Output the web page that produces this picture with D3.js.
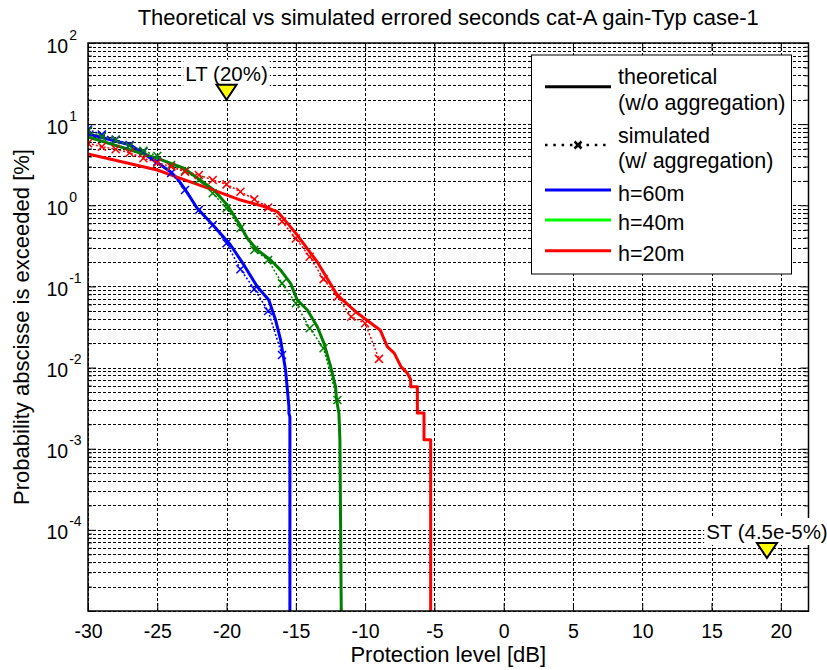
<!DOCTYPE html>
<html>
<head>
<meta charset="utf-8">
<script src="https://d3js.org/d3.v7.min.js"></script>
<style>
  body { margin: 0; background: #fff; }
  text { font-family: "Liberation Sans", Arial, Helvetica, sans-serif; fill: #000; }
</style>
</head>
<body>
<svg id="chart" width="827" height="670"></svg>
<script>
// ---- data ----
var title = "Theoretical vs simulated errored seconds cat-A gain-Typ case-1";
var xLabel = "Protection level [dB]";
var yLabel = "Probability abscisse is exceeded [%]";
var xTicks = [-30, -25, -20, -15, -10, -5, 0, 5, 10, 15, 20];
var yExps = [-4, -3, -2, -1, 0, 1, 2];

// theoretical (w/o aggregation)
var theo60x = [-30, -26.93, -25.0, -24.04, -23.56, -22.96, -22.12, -20.92, -19.71, -18.75, -17.78, -16.95, -16.46, -16.1, -15.74, -15.5, -15.5, -15.43, -15.43];
var theo60y = [7.56, 5.53, 3.35, 2.59, 2.15, 1.54, 0.918, 0.556, 0.324, 0.184, 0.0993, 0.068, 0.0385, 0.0219, 0.0093, 0.0033, 0.00273, 0.00248, 1e-5];
var theo40x = [-30, -26.93, -25.0, -23.08, -20.92, -19.95, -19.11, -18.5, -17.78, -16.82, -16.1, -15.38, -14.9, -14.17, -13.45, -12.97, -12.49, -12.13, -12.06, -11.89, -11.82, -11.72];
var theo40y = [6.94, 4.80, 3.79, 2.86, 1.54, 1.01, 0.60, 0.392, 0.281, 0.212, 0.159, 0.109, 0.068, 0.0512, 0.0319, 0.0199, 0.0103, 0.0058, 0.00398, 0.00273, 0.00128, 1e-5];
var theo20x = [-30, -25.0, -23.32, -20.94, -18.99, -17.4, -16.32, -15.67, -14.9, -13.45, -12.0, -10.56, -9.6, -8.9, -8.4, -7.9, -7.4, -6.95, -6.71, -6.71, -6.23, -6.23, -5.75, -5.75, -5.27, -5.27];
var theo20y = [4.28, 2.72, 2.15, 1.54, 1.16, 0.98, 0.83, 0.62, 0.43, 0.20, 0.078, 0.047, 0.0354, 0.0288, 0.0181, 0.0151, 0.0102, 0.0085, 0.0071, 0.0058, 0.0058, 0.00275, 0.00275, 0.00129, 0.00129, 1e-5];

// simulated (w/ aggregation), one point per dB
var sim60x = [-30, -29, -28, -27, -26, -25, -24, -23, -22, -21, -20, -19, -18, -17, -16];
var sim60y = [8.59, 7.45, 6.45, 5.53, 4.57, 3.45, 2.5, 1.54, 0.875, 0.571, 0.34, 0.163, 0.093, 0.0498, 0.0143];
var sim40x = [-30, -29, -28, -27, -26, -25, -24, -23, -22, -21, -20, -19, -18, -17, -16, -15, -14, -13, -12];
var sim40y = [8.23, 7.0, 6.38, 5.38, 4.71, 4.05, 3.13, 2.67, 2.05, 1.41, 0.918, 0.52, 0.281, 0.212, 0.109, 0.062, 0.0305, 0.0173, 0.00398];
var sim20x = [-30, -29, -28, -27, -26, -25, -24, -23, -22, -21, -20, -19, -18, -17, -16, -15, -14, -13, -12, -11, -10, -9];
var sim20y = [5.8, 5.27, 4.90, 4.45, 3.79, 3.35, 2.99, 2.59, 2.36, 2.05, 1.81, 1.47, 1.19, 0.94, 0.63, 0.39, 0.232, 0.123, 0.0746, 0.0424, 0.0351, 0.0128];

var legendLabels = [["theoretical", "(w/o aggregation)"], ["simulated", "(w/ aggregation)"], ["h=60m"], ["h=40m"], ["h=20m"]];
var legendColors = ["#000", "#000", "#0000ff", "#00ff00", "#ff0000"];

// markers: LT (20%) and ST (4.5e-5%)
var markLabels = ["LT (20%)", "ST (4.5e-5%)"];
var markX = [-20, 19];
var markY = [20, 4.5e-5];

// ---- chart ----
var svg = d3.select("#chart");
var L = 88, R = 808.5, T = 43, B = 611;

var x = d3.scaleLinear().domain([-30, 22]).range([L, R]);
var y = d3.scaleLog().domain([1e-5, 100]).range([B, T]);

svg.append("rect").attr("width", 827).attr("height", 670).attr("fill", "#fff");
svg.append("rect").attr("x", L).attr("y", T).attr("width", R - L).attr("height", B - T).attr("fill", "#fff");

svg.append("defs").append("clipPath").attr("id", "clip")
  .append("rect").attr("x", L).attr("y", T).attr("width", R - L).attr("height", B - T);

// grid values on the log axis
var yMajor = [], yMinor = [];
for (var e = -5; e <= 2; e++) {
  yMajor.push(Math.pow(10, e));
  if (e < 2) for (var k = 2; k <= 9; k++) yMinor.push(k * Math.pow(10, e));
}

var grid = svg.append("g").attr("stroke", "#000").attr("stroke-width", 1)
  .attr("stroke-dasharray", "3,2").attr("shape-rendering", "crispEdges");
grid.selectAll(".gx").data(xTicks).enter().append("line")
  .attr("x1", d => Math.round(x(d)) + 0.5).attr("x2", d => Math.round(x(d)) + 0.5)
  .attr("y1", T).attr("y2", B);
grid.selectAll(".gy").data(yMajor.concat(yMinor)).enter().append("line")
  .attr("x1", L).attr("x2", R)
  .attr("y1", d => Math.round(y(d)) + 0.5).attr("y2", d => Math.round(y(d)) + 0.5);

// axes with inward ticks
function clean(g) { g.select(".domain").remove(); g.selectAll("line").attr("stroke", "#000"); }

svg.append("g").attr("transform", "translate(0," + B + ")")
  .call(d3.axisBottom(x).tickValues(xTicks).tickSize(-8).tickPadding(13).tickFormat(d => String(d)))
  .call(clean)
  .call(g => g.selectAll("text").attr("font-size", 19.5).attr("font-family", "Liberation Sans, Arial, sans-serif"));
svg.append("g").attr("transform", "translate(0," + T + ")")
  .call(d3.axisTop(x).tickValues(xTicks).tickSize(-8).tickFormat(""))
  .call(clean);
svg.append("g").attr("transform", "translate(" + L + ",0)")
  .call(d3.axisLeft(y).tickValues(yMajor).tickSize(-8).tickFormat(""))
  .call(clean);
svg.append("g").attr("transform", "translate(" + L + ",0)")
  .call(d3.axisLeft(y).tickValues(yMinor).tickSize(-4).tickFormat(""))
  .call(clean);
svg.append("g").attr("transform", "translate(" + R + ",0)")
  .call(d3.axisRight(y).tickValues(yMajor).tickSize(-8).tickFormat(""))
  .call(clean);
svg.append("g").attr("transform", "translate(" + R + ",0)")
  .call(d3.axisRight(y).tickValues(yMinor).tickSize(-4).tickFormat(""))
  .call(clean);

// y tick labels 10^n
var yl = svg.append("g").selectAll("text").data(yExps).enter().append("text")
  .attr("x", 46.5).attr("y", d => y(Math.pow(10, d)) + 9.5)
  .attr("font-size", 19.5);
yl.append("tspan").text("10");
yl.append("tspan").attr("dx", 1).attr("dy", -13).attr("font-size", 14).text(d => String(d));

// curves
var line = d3.line().x(d => x(d[0])).y(d => y(d[1]));
var plot = svg.append("g").attr("clip-path", "url(#clip)");

var theo = [
  { xs: theo60x, ys: theo60y, c: "#0000ff" },
  { xs: theo40x, ys: theo40y, c: "#008000" },
  { xs: theo20x, ys: theo20y, c: "#ff0000" }
];
var sim = [
  { xs: sim60x, ys: sim60y, c: "#0000ff" },
  { xs: sim40x, ys: sim40y, c: "#008000" },
  { xs: sim20x, ys: sim20y, c: "#ff0000" }
];

theo.forEach(function (s) {
  plot.append("path").datum(d3.zip(s.xs, s.ys))
    .attr("d", line).attr("fill", "none").attr("stroke", s.c)
    .attr("stroke-width", 3).attr("stroke-linejoin", "round");
});
sim.forEach(function (s) {
  var pts = d3.zip(s.xs, s.ys);
  plot.append("path").datum(pts)
    .attr("d", line).attr("fill", "none").attr("stroke", s.c)
    .attr("stroke-width", 1.5).attr("stroke-dasharray", "2,2");
  plot.selectAll(null).data(pts).enter().append("path")
    .attr("transform", d => "translate(" + x(d[0]) + "," + y(d[1]) + ")")
    .attr("d", "M-4,-4L4,4M-4,4L4,-4")
    .attr("stroke", s.c).attr("stroke-width", 1.5).attr("fill", "none");
});

// box
svg.append("rect").attr("x", L).attr("y", T).attr("width", R - L).attr("height", B - T)
  .attr("fill", "none").attr("stroke", "#000").attr("stroke-width", 1.5);

// annotations with white background
markLabels.forEach(function (lab, i) {
  var px = x(markX[i]), py = y(markY[i]);
  var t = svg.append("text").attr("x", px).attr("y", py - 19).attr("text-anchor", "middle")
    .attr("font-size", 20.5).text(lab);
  var bb = t.node().getBBox();
  svg.insert("rect", function () { return t.node(); })
    .attr("x", bb.x - 2).attr("y", bb.y - 2).attr("width", bb.width + 4).attr("height", bb.height + 4)
    .attr("fill", "#fff");
  svg.append("path")
    .attr("d", "M" + (px - 10) + "," + (py - 15) + "L" + (px + 10) + "," + (py - 15) + "L" + px + "," + py + "Z")
    .attr("fill", "#ffff00").attr("stroke", "#000").attr("stroke-width", 2).attr("stroke-linejoin", "miter");
});

// legend
var lg = svg.append("g");
lg.append("rect").attr("x", 531.5).attr("y", 55).attr("width", 260).attr("height", 219)
  .attr("fill", "#fff").attr("stroke", "#000").attr("stroke-width", 1);
var rowY = [84, 142.5, 200.5, 230, 260.5];
var sampleY = [86.7, 145, 190, 220, 250.7];
legendLabels.forEach(function (lines, i) {
  var t = lg.append("text").attr("x", 618).attr("y", rowY[i]).attr("font-size", 21.5);
  lines.forEach(function (s, j) {
    t.append("tspan").attr("x", 618).attr("dy", j ? 25.5 : 0).text(s);
  });
  var ln = lg.append("line").attr("x1", 545).attr("x2", 611)
    .attr("y1", sampleY[i]).attr("y2", sampleY[i]).attr("stroke", legendColors[i]);
  if (i === 1) {
    ln.attr("stroke-width", 2.5).attr("stroke-dasharray", "2.5,5.8");
    lg.append("path").attr("transform", "translate(578," + sampleY[i] + ")")
      .attr("d", "M-3.5,-3.5L3.5,3.5M-3.5,3.5L3.5,-3.5").attr("stroke", "#000").attr("stroke-width", 2.5);
  } else {
    ln.attr("stroke-width", 3);
  }
});

// titles
svg.append("text").attr("x", (L + R) / 2).attr("y", 25).attr("text-anchor", "middle")
  .attr("font-size", 22).text(title);
svg.append("text").attr("x", (L + R) / 2).attr("y", 662).attr("text-anchor", "middle")
  .attr("font-size", 22).text(xLabel);
svg.append("text").attr("transform", "translate(28.5," + ((T + B) / 2) + ") rotate(-90)")
  .attr("text-anchor", "middle").attr("font-size", 22).text(yLabel);
</script>
</body>
</html>
